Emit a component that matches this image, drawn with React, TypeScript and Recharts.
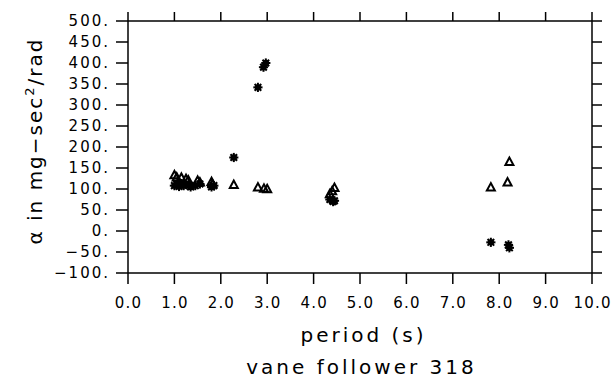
import React from 'react';
import { ScatterChart, Scatter, XAxis, YAxis } from 'recharts';

const xTicks = [0, 1, 2, 3, 4, 5, 6, 7, 8, 9, 10];
const yTicks = [-100, -50, 0, 50, 100, 150, 200, 250, 300, 350, 400, 450, 500];

const trianglePeriods = [1.0, 1.05, 1.15, 1.25, 1.3, 1.5, 1.55, 1.8, 1.82, 2.28, 2.8, 2.93, 3.0, 4.35, 4.4, 4.45, 7.82, 8.18, 8.22];
const triangleAlpha = [133, 128, 127, 124, 121, 120, 116, 117, 112, 110, 104, 101, 100, 88, 95, 103, 104, 116, 165];

const starPeriods = [1.0, 1.05, 1.1, 1.15, 1.2, 1.3, 1.35, 1.45, 1.55, 1.8, 1.85, 2.28, 2.8, 2.92, 2.97, 4.35, 4.42, 4.45, 7.82, 8.2, 8.22];
const starAlpha = [108, 112, 106, 113, 108, 110, 105, 108, 112, 105, 108, 175, 342, 390, 400, 75, 70, 72, -27, -33, -40];

const triData = trianglePeriods.map((p, i) => ({ x: p, y: triangleAlpha[i] }));
const starData = starPeriods.map((p, i) => ({ x: p, y: starAlpha[i] }));

const FONT = '"DejaVu Sans", sans-serif';

const fmtY = (v: number) => (v < 0 ? '\u2212' + Math.abs(v) : String(v)) + '.';

const XTick = (props: any) => {
  const { x, y, payload } = props;
  return (
    <text x={x + 0.6} y={y} dy="0.71em" textAnchor="middle" fontFamily={FONT} fontSize={15} letterSpacing={1.2} fill="#000">
      {Number(payload.value).toFixed(1)}
    </text>
  );
};

const YTick = (props: any) => {
  const { x, y, payload } = props;
  return (
    <text x={x} y={y} dy="0.355em" textAnchor="end" fontFamily={FONT} fontSize={15} letterSpacing={2} fill="#000">
      {fmtY(Number(payload.value))}
    </text>
  );
};

const Empty = () => <g />;

const StarShape = (props: any) => {
  const { cx, cy } = props;
  const r = 4.6;
  const d = r * 0.72;
  return (
    <g stroke="#000" strokeWidth={2}>
      <line x1={cx - r} y1={cy} x2={cx + r} y2={cy} />
      <line x1={cx} y1={cy - r} x2={cx} y2={cy + r} />
      <line x1={cx - d} y1={cy - d} x2={cx + d} y2={cy + d} />
      <line x1={cx - d} y1={cy + d} x2={cx + d} y2={cy - d} />
      <circle cx={cx} cy={cy} r={2.2} fill="#000" />
    </g>
  );
};

const TriShape = (props: any) => {
  const { cx, cy } = props;
  const pts = `${cx},${cy - 4.2} ${cx - 4},${cy + 3.2} ${cx + 4},${cy + 3.2}`;
  return <polygon points={pts} fill="none" stroke="#000" strokeWidth={2} strokeLinejoin="miter" />;
};

const axisStyle = { stroke: '#000', strokeWidth: 1.5 };

export default function App() {
  return (
    <div style={{ position: 'absolute', left: 0, top: 0, width: 612, height: 385, background: '#fff' }}>
      <ScatterChart width={612} height={385} margin={{ top: 11, right: 5, bottom: 72, left: 48 }}>
        <XAxis
          xAxisId="bottom"
          dataKey="x"
          type="number"
          domain={[0, 10]}
          ticks={xTicks}
          allowDataOverflow
          orientation="bottom"
          height={40}
          tickSize={11}
          tickMargin={13}
          axisLine={axisStyle}
          tickLine={axisStyle}
          tick={<XTick />}
          interval={0}
        />
        <XAxis
          xAxisId="top"
          dataKey="x"
          type="number"
          domain={[0, 10]}
          ticks={xTicks}
          allowDataOverflow
          orientation="top"
          height={10}
          tickSize={9}
          axisLine={axisStyle}
          tickLine={axisStyle}
          tick={<Empty />}
          interval={0}
        />
        <YAxis
          yAxisId="left"
          dataKey="y"
          type="number"
          domain={[-100, 500]}
          ticks={yTicks}
          allowDataOverflow
          orientation="left"
          width={80}
          tickSize={12}
          tickMargin={6}
          axisLine={axisStyle}
          tickLine={axisStyle}
          tick={<YTick />}
          interval={0}
        />
        <YAxis
          yAxisId="right"
          dataKey="y"
          type="number"
          domain={[-100, 500]}
          ticks={yTicks}
          allowDataOverflow
          orientation="right"
          width={15}
          tickSize={10}
          axisLine={axisStyle}
          tickLine={axisStyle}
          tick={<Empty />}
          interval={0}
        />
        <Scatter xAxisId="bottom" yAxisId="left" data={starData} shape={<StarShape />} isAnimationActive={false} />
        <Scatter xAxisId="bottom" yAxisId="left" data={triData} shape={<TriShape />} isAnimationActive={false} />
      </ScatterChart>
      <svg width={612} height={385} style={{ position: 'absolute', left: 0, top: 0, pointerEvents: 'none' }}>
        <text x={363.5} y={342} textAnchor="middle" fontFamily={FONT} fontSize={20} letterSpacing={3} fill="#000">
          period (s)
        </text>
        <text x={361.5} y={374} textAnchor="middle" fontFamily={FONT} fontSize={20} letterSpacing={3} fill="#000">
          vane follower 318
        </text>
        <text
          x={42}
          y={141}
          textAnchor="middle"
          fontFamily={FONT}
          fontSize={20}
          letterSpacing={2}
          fill="#000"
          transform="rotate(-90 42 141)"
        >
          {'\u03B1 in mg\u2212sec'}
          <tspan dy={-8} fontSize={13}>2</tspan>
          <tspan dy={8}>/rad</tspan>
        </text>
      </svg>
    </div>
  );
}
